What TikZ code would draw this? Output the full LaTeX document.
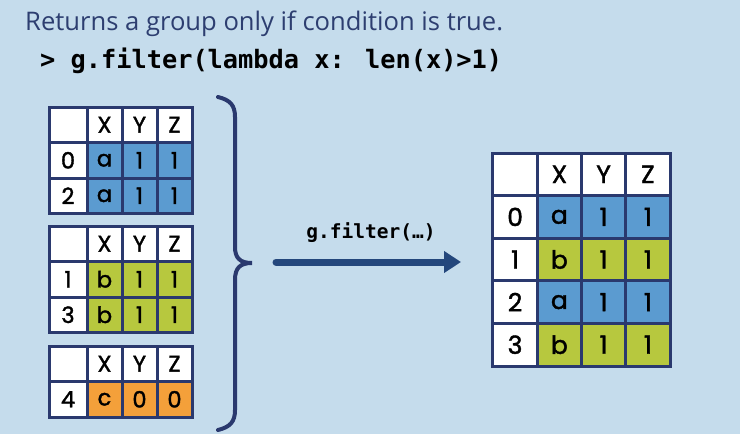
\documentclass[tikz,border=0pt]{standalone}
\usepackage{fontspec}
\setmainfont{Open Sans}
\newfontfamily\cellfont{Poppins}[FakeBold=1.6]
\newfontfamily\codefont{DejaVu Sans Mono}
\usetikzlibrary{arrows.meta}
\definecolor{bgc}{RGB}{197,220,236}
\definecolor{navy}{RGB}{42,57,110}
\definecolor{titlec}{RGB}{45,62,112}
\definecolor{cblue}{RGB}{91,155,208}
\definecolor{cgreen}{RGB}{183,200,62}
\definecolor{corange}{RGB}{244,160,58}
\definecolor{arrowc}{RGB}{36,71,124}
\tikzset{
  cell/.style={draw=navy, line width=3pt, inner sep=0pt, outer sep=0pt,
    minimum height=35.5pt, font=\cellfont\fontsize{22.5}{22}\selectfont, text=black},
  bigcell/.style={cell, minimum width=44.25pt, minimum height=42.6pt,
    font=\cellfont\fontsize{25}{25}\selectfont},
  wh/.style={fill=white},
  bl/.style={fill=cblue},
  gr/.style={fill=cgreen},
  org/.style={fill=corange},
  bracestyle/.style={draw=navy, line width=4pt, line cap=round},
  bigarrow/.style={draw=arrowc, line width=7pt, line cap=round,
    -{Triangle[width=21pt,length=17pt]}},
}
\begin{document}
\begin{tikzpicture}[x=1pt,y=-1pt]
\fill[bgc] (0,0) rectangle (740,434);
\useasboundingbox (0,0) rectangle (740,434);
% title
\node[anchor=base west, inner sep=0, text=titlec, font=\fontsize{25.6}{28}\selectfont] (title) at (25,30) {Returns a group only if condition is true.};
\node[anchor=base west, inner sep=0, text=black, font=\codefont\bfseries\fontsize{25.3}{28}\selectfont] (code) at (40,68) {> g.filter(lambda x: len(x)>1)};
% table A
\foreach \n/\x/\w/\t/\s in {0/68/38/{}/wh, 1/104.5/35/X/wh, 2/139.5/35/Y/wh, 3/174.5/35/Z/wh}
  \node[cell,\s,minimum width=\w pt] (a-h-\n) at (\x,124.75) {\t};
\foreach \n/\x/\w/\t/\s in {0/68/38/0/wh, 1/104.5/35/a/bl, 2/139.5/35/1/bl, 3/174.5/35/1/bl}
  \node[cell,\s,minimum width=\w pt] (a-1-\n) at (\x,160.25) {\t};
\foreach \n/\x/\w/\t/\s in {0/68/38/2/wh, 1/104.5/35/a/bl, 2/139.5/35/1/bl, 3/174.5/35/1/bl}
  \node[cell,\s,minimum width=\w pt] (a-2-\n) at (\x,195.75) {\t};
% table B
\foreach \n/\x/\w/\t/\s in {0/68/38/{}/wh, 1/104.5/35/X/wh, 2/139.5/35/Y/wh, 3/174.5/35/Z/wh}
  \node[cell,\s,minimum width=\w pt] (b-h-\n) at (\x,243.75) {\t};
\foreach \n/\x/\w/\t/\s in {0/68/38/1/wh, 1/104.5/35/b/gr, 2/139.5/35/1/gr, 3/174.5/35/1/gr}
  \node[cell,\s,minimum width=\w pt] (b-1-\n) at (\x,279.25) {\t};
\foreach \n/\x/\w/\t/\s in {0/68/38/3/wh, 1/104.5/35/b/gr, 2/139.5/35/1/gr, 3/174.5/35/1/gr}
  \node[cell,\s,minimum width=\w pt] (b-2-\n) at (\x,314.75) {\t};
% table C
\foreach \n/\x/\w/\t/\s in {0/68/38/{}/wh, 1/104.5/35/X/wh, 2/139.5/35/Y/wh, 3/174.5/35/Z/wh}
  \node[cell,\s,minimum width=\w pt] (c-h-\n) at (\x,363.75) {\t};
\foreach \n/\x/\w/\t/\s in {0/68/38/4/wh, 1/104.5/35/c/org, 2/139.5/35/0/org, 3/174.5/35/0/org}
  \node[cell,\s,minimum width=\w pt] (c-1-\n) at (\x,399.25) {\t};
% right table
\foreach \n/\x/\t in {0/515.1/{}, 1/559.4/X, 2/603.6/Y, 3/647.9/Z}
  \node[bigcell,wh] (r-h-\n) at (\x,174.3) {\t};
\foreach \r/\y/\i/\v/\s in {1/216.9/0/a/bl, 2/259.5/1/b/gr, 3/302.1/2/a/bl, 4/344.7/3/b/gr}{
  \node[bigcell,wh] (r-\r-0) at (515.1,\y) {\i};
  \node[bigcell,\s] (r-\r-1) at (559.4,\y) {\v};
  \node[bigcell,\s] (r-\r-2) at (603.6,\y) {1};
  \node[bigcell,\s] (r-\r-3) at (647.9,\y) {1};
}
% brace
\draw[bracestyle] (218,97) .. controls (230,100) and (235,105) .. (235,117) -- (235,247)
  .. controls (235,258) and (240,263) .. (252,263)
  .. controls (240,263) and (235,268) .. (235,280) -- (235,410)
  .. controls (235,422) and (230,427) .. (218,430);
% arrow
\coordinate (as) at (276,262);
\coordinate (ae) at (461,262);
\draw[bigarrow] (as) -- (ae);
\node[anchor=base, inner sep=0, font=\codefont\bfseries\fontsize{19.5}{22}\selectfont] (lbl) at (371,238) {g.filter(…)};
\end{tikzpicture}
\end{document}
